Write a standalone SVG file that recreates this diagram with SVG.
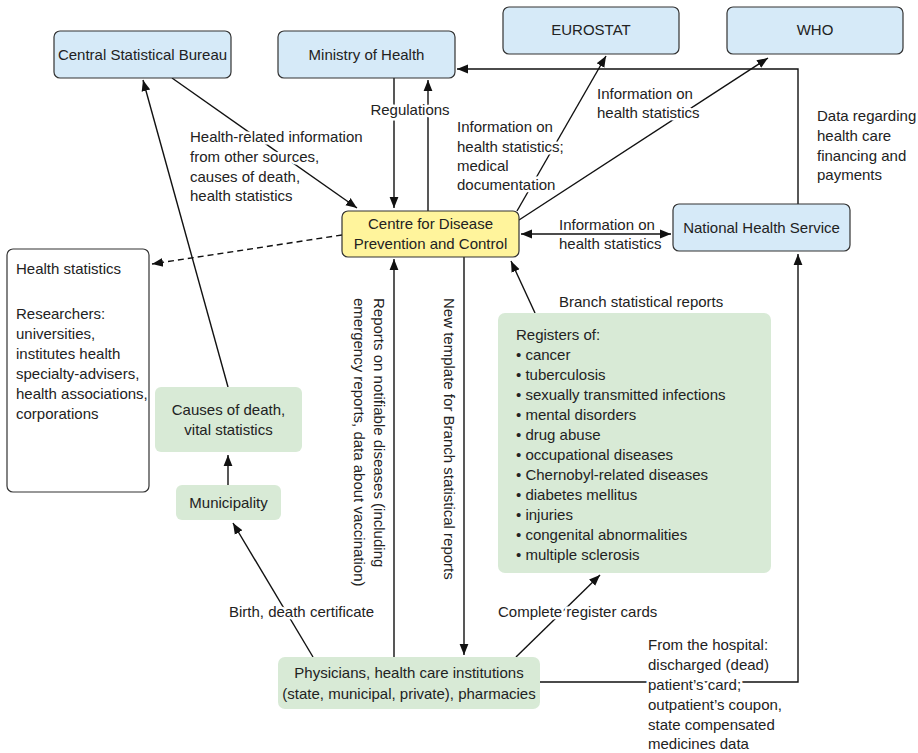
<svg xmlns="http://www.w3.org/2000/svg" width="918" height="753" viewBox="0 0 918 753">
<defs>
<style>
text{font-family:"Liberation Sans",Arial,sans-serif;font-size:15px;fill:#222}
.c{text-anchor:middle}
.halo{stroke:#fff;stroke-width:5;stroke-linejoin:round;paint-order:stroke}
.blue{fill:#d6eaf8;stroke:#333;stroke-width:1.2}
.yellow{fill:#fff49c;stroke:#333;stroke-width:1.2}
.green{fill:#d8ead6;stroke:none}
.white{fill:#fff;stroke:#333;stroke-width:1.2}
.ln{fill:none;stroke:#111;stroke-width:1.4}
.dash{stroke-dasharray:6 4}
</style>
<marker id="ah" viewBox="0 0 10 10" refX="10" refY="5" markerWidth="11" markerHeight="11" markerUnits="userSpaceOnUse" orient="auto-start-reverse">
<path d="M0,1 L10,5 L0,9 z" fill="#111"/>
</marker>
</defs>
<rect width="918" height="753" fill="#fff"/>

<g id="connectors">
<line class="ln" x1="172" y1="78" x2="357" y2="208" marker-end="url(#ah)"/>
<line class="ln" x1="394" y1="78" x2="394" y2="208" marker-end="url(#ah)"/>
<line class="ln" x1="428" y1="211" x2="428" y2="80" marker-end="url(#ah)"/>
<polyline class="ln" points="798,204 798,69 457,69" marker-end="url(#ah)"/>
<line class="ln" x1="517" y1="211" x2="606" y2="56" marker-end="url(#ah)"/>
<line class="ln" x1="519" y1="220" x2="768" y2="58" marker-end="url(#ah)"/>
<line class="ln" x1="521" y1="234" x2="671" y2="234" marker-start="url(#ah)" marker-end="url(#ah)"/>
<line class="ln dash" x1="342" y1="235" x2="152" y2="264" marker-end="url(#ah)"/>
<line class="ln" x1="228" y1="387" x2="143" y2="80" marker-end="url(#ah)"/>
<line class="ln" x1="228" y1="485" x2="228" y2="455" marker-end="url(#ah)"/>
<line class="ln" x1="394" y1="657" x2="394" y2="259" marker-end="url(#ah)"/>
<line class="ln" x1="464" y1="257" x2="464" y2="655" marker-end="url(#ah)"/>
<line class="ln" x1="535" y1="313" x2="511" y2="261" marker-end="url(#ah)"/>
<line class="ln" x1="516" y1="657" x2="600" y2="575" marker-end="url(#ah)"/>
<line class="ln" x1="313" y1="657" x2="233" y2="523" marker-end="url(#ah)"/>
<polyline class="ln" points="540,682 798,682 798,254" marker-end="url(#ah)"/>

<text class="halo" x="190" y="142">Health-related information</text>
<text class="halo" x="190" y="162">from other sources,</text>
<text class="halo" x="190" y="182">causes of death,</text>
<text class="halo" x="190" y="201">health statistics</text>
<text class="halo c" x="410" y="115">Regulations</text>
<text class="halo" x="457" y="132">Information on</text>
<text class="halo" x="457" y="152">health statistics;</text>
<text class="halo" x="457" y="171">medical</text>
<text class="halo" x="457" y="190">documentation</text>
<text class="halo" x="597" y="99">Information on</text>
<text class="halo" x="597" y="118">health statistics</text>
<text x="817" y="121">Data regarding</text>
<text x="817" y="141">health care</text>
<text x="817" y="161">financing and</text>
<text x="817" y="180">payments</text>
<text class="halo" x="559" y="230">Information on</text>
<text class="halo" x="559" y="249">health statistics</text>
<text x="559" y="307">Branch statistical reports</text>
<text transform="translate(374,298) rotate(90)">Reports on notifiable diseases (including</text>
<text transform="translate(354,298) rotate(90)">emergency reports, data about vaccination)</text>
<text transform="translate(444,298) rotate(90)">New template for Branch statistical reports</text>
<text class="halo" x="229" y="617">Birth, death certificate</text>
<text class="halo" x="498" y="617">Complete register cards</text>
<text class="halo" x="648" y="650">From the hospital:</text>
<text class="halo" x="648" y="670">discharged (dead)</text>
<text class="halo" x="648" y="690">patient’s card;</text>
<text class="halo" x="648" y="710">outpatient’s coupon,</text>
<text class="halo" x="648" y="730">state compensated</text>
<text class="halo" x="648" y="749">medicines data</text>
</g>

<g id="csb"><rect class="blue" x="54" y="31" width="177" height="47" rx="6"/><text class="c" x="142.5" y="60">Central Statistical Bureau</text></g>
<g id="moh"><rect class="blue" x="278" y="31" width="177" height="47" rx="6"/><text class="c" x="366.5" y="60">Ministry of Health</text></g>
<g id="eurostat"><rect class="blue" x="503" y="7" width="176" height="47" rx="6"/><text class="c" x="591" y="35">EUROSTAT</text></g>
<g id="who"><rect class="blue" x="727" y="7" width="176" height="47" rx="6"/><text class="c" x="815" y="35">WHO</text></g>
<g id="cdpc"><rect class="yellow" x="342" y="211" width="177" height="46" rx="6"/><text class="c" x="430.5" y="229">Centre for Disease</text><text class="c" x="430.5" y="249">Prevention and Control</text></g>
<g id="nhs"><rect class="blue" x="673" y="204" width="177" height="47" rx="6"/><text class="c" x="761.5" y="233">National Health Service</text></g>
<g id="healthstats"><rect class="white" x="7" y="249" width="142" height="243" rx="6"/>
<text x="16" y="274">Health statistics</text>
<text x="16" y="319">Researchers:</text>
<text x="16" y="339">universities,</text>
<text x="16" y="359">institutes health</text>
<text x="16" y="379">specialty-advisers,</text>
<text x="16" y="399">health associations,</text>
<text x="16" y="419">corporations</text></g>
<g id="causes"><rect class="green" x="155" y="387" width="147" height="65" rx="6"/><text class="c" x="228.5" y="415">Causes of death,</text><text class="c" x="228.5" y="435">vital statistics</text></g>
<g id="municipality"><rect class="green" x="176" y="485" width="105" height="35" rx="6"/><text class="c" x="228.5" y="508">Municipality</text></g>
<g id="registers"><rect class="green" x="498" y="313" width="273" height="260" rx="7"/>
<text x="516" y="340">Registers of:</text>
<text x="516" y="360">• cancer</text>
<text x="516" y="380">• tuberculosis</text>
<text x="516" y="400">• sexually transmitted infections</text>
<text x="516" y="420">• mental disorders</text>
<text x="516" y="440">• drug abuse</text>
<text x="516" y="460">• occupational diseases</text>
<text x="516" y="480">• Chernobyl-related diseases</text>
<text x="516" y="500">• diabetes mellitus</text>
<text x="516" y="520">• injuries</text>
<text x="516" y="540">• congenital abnormalities</text>
<text x="516" y="560">• multiple sclerosis</text></g>
<g id="physicians"><rect class="green" x="278" y="657" width="262" height="52" rx="7"/><text class="c" x="409" y="678">Physicians, health care institutions</text><text class="c" x="409" y="699">(state, municipal, private), pharmacies</text></g>
</svg>
